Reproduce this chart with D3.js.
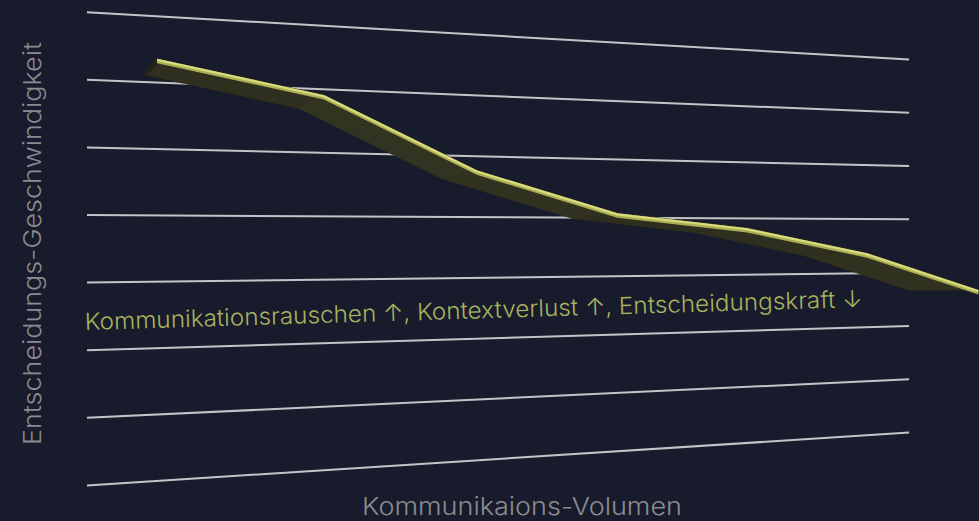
<!DOCTYPE html>
<html><head><meta charset="utf-8">
<script src="https://cdn.jsdelivr.net/npm/d3@7"></script>
<style>html,body{margin:0;padding:0;background:#181b2c;} svg{display:block}</style>
</head><body><svg id="c" width="979" height="521"></svg>
<script>
// ---- data ----
const steps = [0, 1, 2, 3, 4, 5, 6];                       // communication volume steps
const speed = [6.36, 5.91, 4.77, 4.08, 3.83, 3.37, 2.65];  // decision speed (grid units)
const gridTicks = [0, 1, 2, 3, 4, 5, 6, 7];
const annotation = "Kommunikationsrauschen \u2191, Kontextverlust \u2191, Entscheidungskraft \u2193";
const xTitle = "Kommunikaions-Volumen";
const yTitle = "Entscheidungs-Geschwindigkeit";

(function () {
const W = 979, H = 521;
const FONT = "Inter, 'Liberation Sans', Arial, sans-serif";
const svg = d3.select("#c");
svg.append("rect").attr("width", W).attr("height", H).attr("fill", "#181b2c");

// scales in "floor" space (u: depth across the grid, w: height)
const x = d3.scaleLinear().domain([0, 6]).range([0.0684, 1.1094]);
const y = d3.scaleLinear().domain([0, 7]).range([-3.5, 3.5]);

// perspective projection of the tilted plane
const a = 0.2683, x0 = 87, B = 1066, sp0 = 67.6;
const sR = 1 / (1 + a);
function proj(u, w) {
  const s = 1 / (1 + a * u);
  const xs = (x0 + B * u) * s;
  const yc = 246 + (s - sR) / (1 - sR) * 2.8;
  return [xs, yc - w * sp0 * s];
}

// ---- grid ----
const gridG = svg.append("g");
gridTicks.forEach(t => {
  const p0 = proj(0, y(t)), p1 = proj(1, y(t));
  gridG.append("line")
    .attr("x1", p0[0]).attr("y1", p0[1])
    .attr("x2", p1[0]).attr("y2", p1[1])
    .attr("stroke", "#c4c4c8").attr("stroke-width", 2);
});

function fit(sel, len) {
  const n = sel.node().getComputedTextLength();
  if (n > 0) sel.attr("textLength", len).attr("lengthAdjust", "spacingAndGlyphs");
  return sel;
}

// ---- annotation ----
fit(svg.append("text")
  .attr("x", 85).attr("y", 330)
  .attr("transform", "rotate(-1.7,85,330)")
  .attr("font-family", FONT).attr("font-weight", 300)
  .attr("font-size", 23.5)
  .attr("fill", "#a9b25e")
  .text(annotation), 778);

// ---- axis titles ----
fit(svg.append("text")
  .attr("x", 522).attr("y", 515)
  .attr("text-anchor", "middle")
  .attr("font-family", FONT).attr("font-weight", 300)
  .attr("font-size", 24)
  .attr("fill", "#8b8b8f")
  .text(xTitle), 320);

fit(svg.append("text")
  .attr("transform", "translate(41,243.5) rotate(-90)")
  .attr("text-anchor", "middle")
  .attr("font-family", FONT).attr("font-weight", 300)
  .attr("font-size", 24)
  .attr("fill", "#8b8b8f")
  .text(yTitle), 403);

// ---- ribbon ----
const edge = steps.map((d, i) => proj(x(d), y(speed[i])));
const V = [-47, 290], t = 0.068;
const front = edge.map(p => [p[0] + t * (V[0] - p[0]), p[1] + t * (V[1] - p[1])]);

const rib = svg.append("g");
for (let i = 0; i < edge.length - 1; i++) {
  const quad = [edge[i], edge[i + 1], front[i + 1], front[i]];
  const slope = (edge[i + 1][1] - edge[i][1]) / (edge[i + 1][0] - edge[i][0]);
  const shade = d3.interpolateRgb("#2c2c1d", "#363622")(Math.min(1, Math.abs(slope) * 1.5));
  rib.append("path").attr("d", d3.line()(quad) + "Z")
    .attr("fill", shade).attr("stroke", shade).attr("stroke-width", 0.8);
}
rib.append("path")
  .attr("d", d3.line()([edge[0], front[0], [front[0][0] + 1, front[0][1] + 3], [edge[0][0] + 2, edge[0][1] + 4]]) + "Z")
  .attr("fill", "#222219");
const strip = edge.concat(edge.slice().reverse().map(p => [p[0], p[1] + 4.5]));
rib.append("path").attr("d", d3.line()(strip) + "Z")
  .attr("fill", "#abad52");
rib.append("path").attr("d", d3.line()(edge.map(p => [p[0], p[1] + 1.2])))
  .attr("fill", "none").attr("stroke", "#d8da7e").attr("stroke-width", 2.2)
  .attr("stroke-linejoin", "round");
})();
</script>
</body></html>
